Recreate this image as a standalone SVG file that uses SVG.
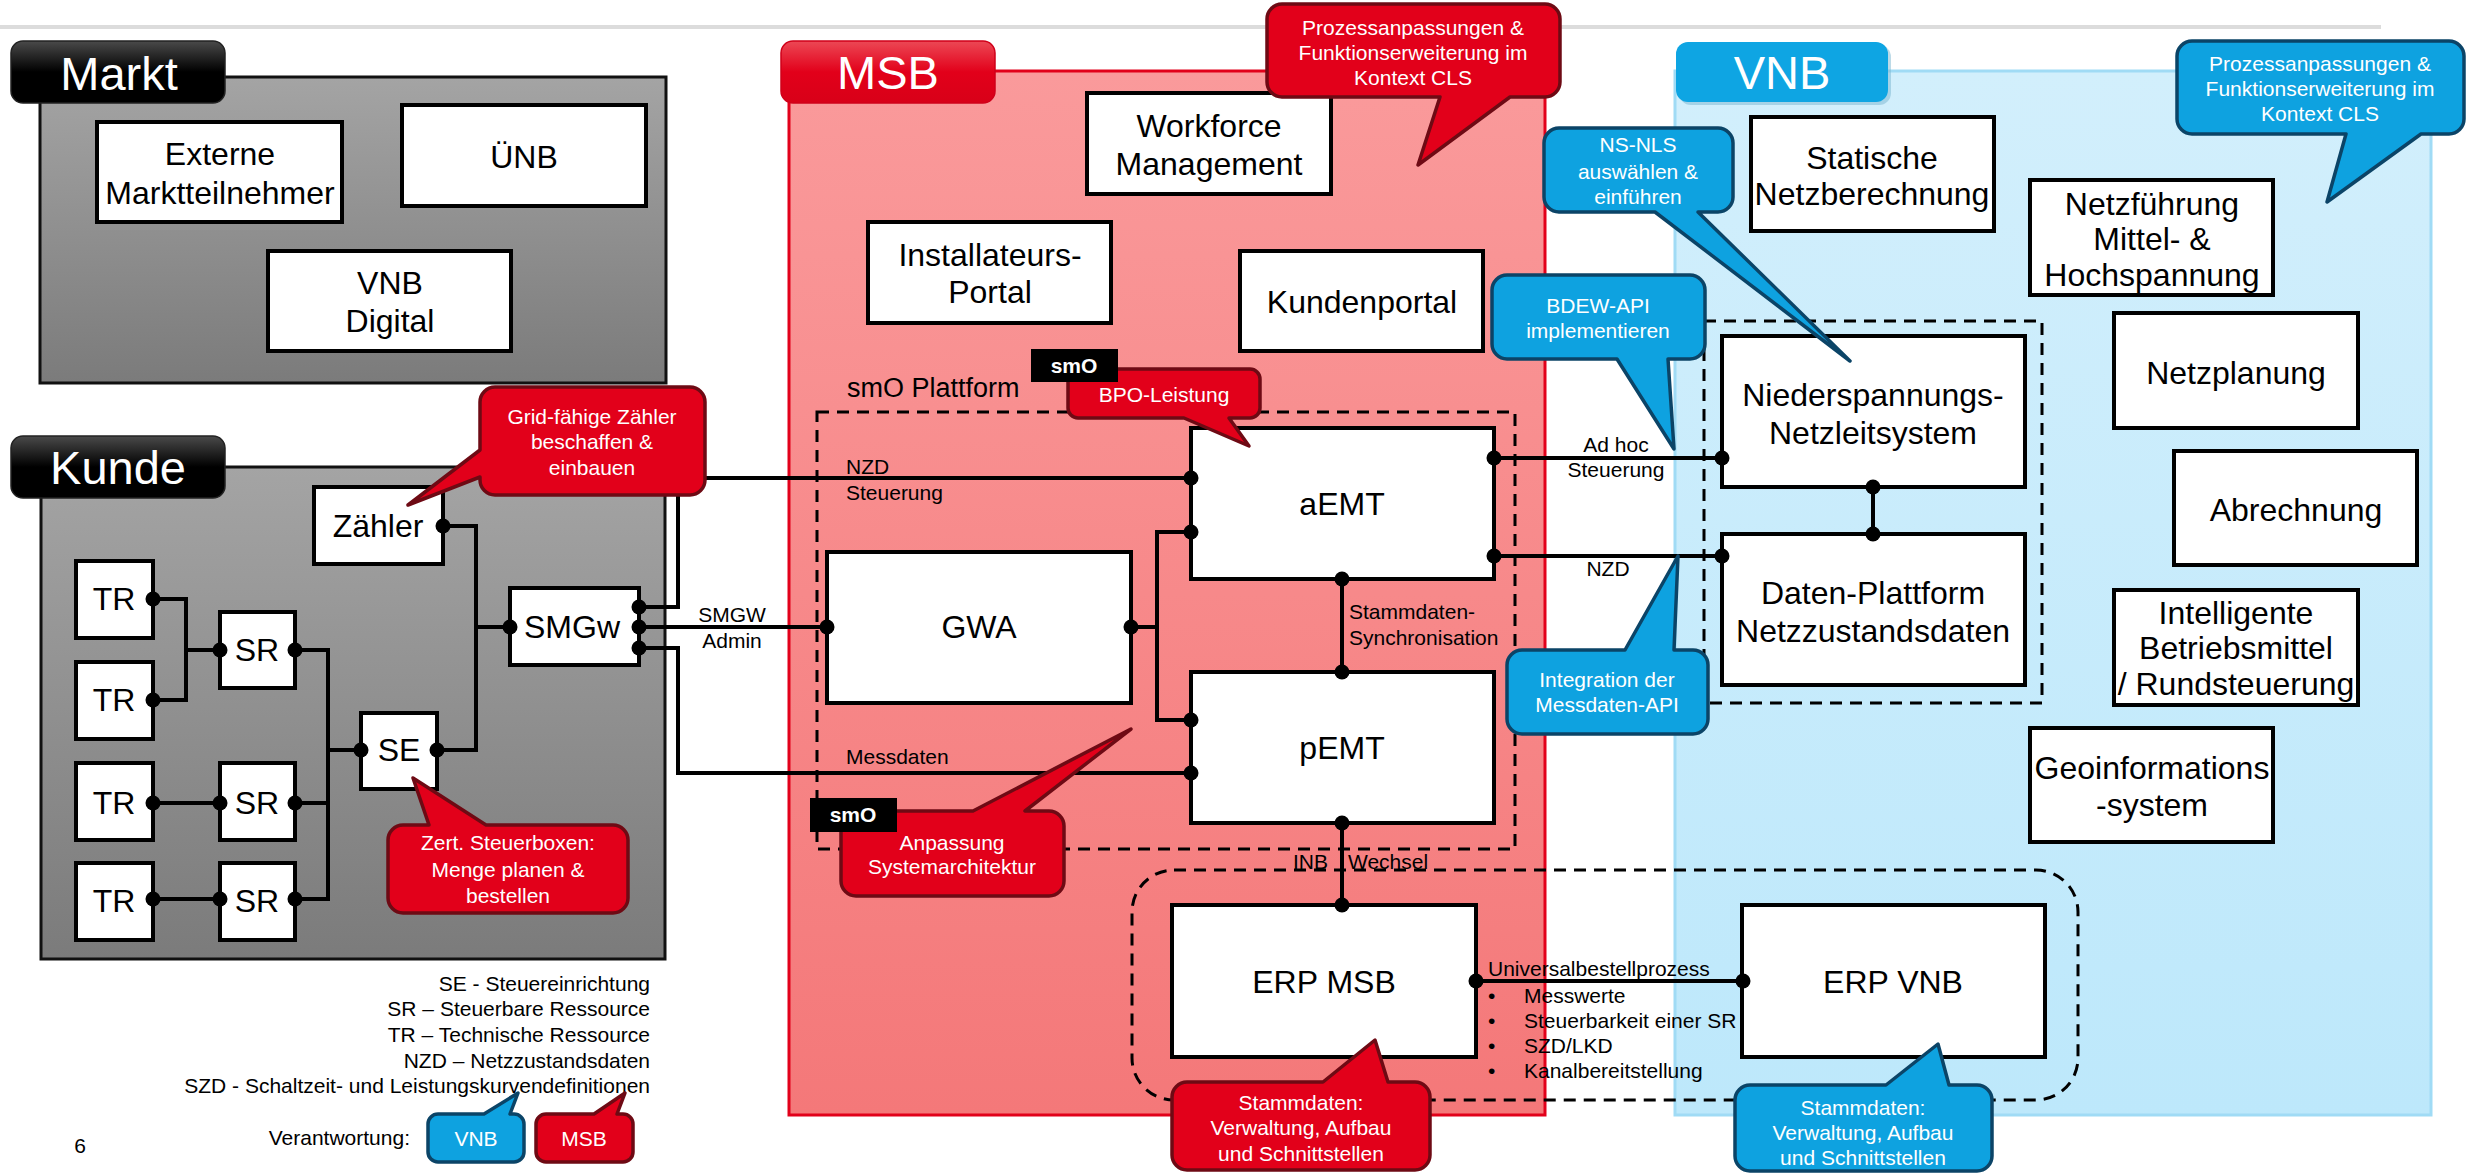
<svg xmlns="http://www.w3.org/2000/svg" width="2466" height="1173" viewBox="0 0 2466 1173">
<defs>
<linearGradient id="gGray" x1="0" y1="0" x2="0" y2="1"><stop offset="0" stop-color="#a4a4a4"/><stop offset="1" stop-color="#7b7b7b"/></linearGradient>
<linearGradient id="gTab" x1="0" y1="0" x2="0" y2="1"><stop offset="0" stop-color="#4a4a4a"/><stop offset="0.5" stop-color="#000"/><stop offset="1" stop-color="#000"/></linearGradient>
<linearGradient id="gRedTab" x1="0" y1="0" x2="0" y2="1"><stop offset="0" stop-color="#ec4855"/><stop offset="0.5" stop-color="#e2001a"/><stop offset="1" stop-color="#d80018"/></linearGradient>
<linearGradient id="gMsb" x1="0" y1="0" x2="0" y2="1"><stop offset="0" stop-color="#fa9a9b"/><stop offset="1" stop-color="#f47879"/></linearGradient>
<linearGradient id="gVnb" x1="0" y1="0" x2="0" y2="1"><stop offset="0" stop-color="#d2effc"/><stop offset="1" stop-color="#bde8fb"/></linearGradient>
</defs>
<style>
text{font-family:"Liberation Sans",Arial,sans-serif}
.box{fill:#fff;stroke:#000;stroke-width:4}
.t32{font-size:32px;text-anchor:middle;fill:#000}
.t21{font-size:21px;fill:#000}
.mid{text-anchor:middle}
.end{text-anchor:end}
.tab{font-size:47px;fill:#fff;text-anchor:middle}
.cw{font-size:21px;fill:#fff;text-anchor:middle}
.red{fill:#e2001a;stroke:#6e0a14;stroke-width:3.5;stroke-linejoin:round}
.blue{fill:#0ea2e0;stroke:#0b4467;stroke-width:3.5;stroke-linejoin:round}
.dash{fill:none;stroke:#000;stroke-width:3;stroke-dasharray:12 8}
.wire{fill:none;stroke:#000;stroke-width:4}
.dot{fill:#000}
.smo{fill:#000}
.smot{font-size:21px;font-weight:bold;fill:#fff;text-anchor:middle}
</style>
<rect x="0" y="25" width="2381" height="4" fill="#dcdcdc"/>

<g id="markt">
<rect x="40" y="77" width="626" height="306" fill="url(#gGray)" stroke="#111" stroke-width="3"/>
<rect x="11" y="41" width="214" height="62" rx="12" fill="url(#gTab)" stroke="#222" stroke-width="1.5"/>
<text class="tab" x="119" y="90">Markt</text>
</g>
<g id="kunde">
<rect x="41" y="467" width="624" height="492" fill="url(#gGray)" stroke="#111" stroke-width="3"/>
<rect x="11" y="436" width="214" height="62" rx="12" fill="url(#gTab)" stroke="#222" stroke-width="1.5"/>
<text class="tab" x="118" y="484">Kunde</text>
</g>
<g id="msb">
<rect x="789" y="71" width="756" height="1044" fill="url(#gMsb)" stroke="#e2001a" stroke-width="3"/>
<rect x="781" y="41" width="214" height="62" rx="12" fill="url(#gRedTab)" stroke="#d0001a" stroke-width="1.5"/>
<text class="tab" x="888" y="89">MSB</text>
</g>
<g id="vnb">
<rect x="1675" y="71" width="756" height="1044" fill="url(#gVnb)" stroke="#a0dbf5" stroke-width="3"/>
<rect x="1679" y="45" width="212" height="60" rx="12" fill="#7ab5cf" opacity="0.5"/>
<rect x="1676" y="42" width="212" height="60" rx="12" fill="#0ea5e3"/>
<text class="tab" x="1782" y="89">VNB</text>
</g>

<g id="groups">
<rect class="dash" x="817" y="412" width="698" height="437"/>
<text x="847" y="397" style="font-size:27px">smO Plattform</text>
<rect class="dash" x="1704" y="321" width="338" height="382"/>
<rect class="dash" x="1132" y="870" width="946" height="230" rx="42"/>
</g>

<g id="n-externe"><rect class="box" x="97" y="122" width="245" height="100"/><text class="t32" x="220" y="165">Externe</text><text class="t32" x="220" y="204">Marktteilnehmer</text></g>
<g id="n-uenb"><rect class="box" x="402" y="105" width="244" height="101"/><text class="t32" x="524" y="168">ÜNB</text></g>
<g id="n-vnbdigital"><rect class="box" x="268" y="251" width="243" height="100"/><text class="t32" x="390" y="294">VNB</text><text class="t32" x="390" y="332">Digital</text></g>

<g id="n-zaehler"><rect class="box" x="314" y="487" width="129" height="77"/><text class="t32" x="378" y="537">Zähler</text></g>
<g id="n-smgw"><rect class="box" x="510" y="588" width="129" height="77"/><text class="t32" x="572" y="638">SMGw</text></g>
<g id="n-tr1"><rect class="box" x="76" y="561" width="77" height="77"/><text class="t32" x="114" y="610">TR</text></g>
<g id="n-tr2"><rect class="box" x="76" y="662" width="77" height="77"/><text class="t32" x="114" y="711">TR</text></g>
<g id="n-tr3"><rect class="box" x="76" y="763" width="77" height="77"/><text class="t32" x="114" y="814">TR</text></g>
<g id="n-tr4"><rect class="box" x="76" y="863" width="77" height="77"/><text class="t32" x="114" y="912">TR</text></g>
<g id="n-sr1"><rect class="box" x="220" y="612" width="75" height="76"/><text class="t32" x="257" y="661">SR</text></g>
<g id="n-sr2"><rect class="box" x="220" y="763" width="75" height="77"/><text class="t32" x="257" y="814">SR</text></g>
<g id="n-sr3"><rect class="box" x="220" y="863" width="75" height="77"/><text class="t32" x="257" y="912">SR</text></g>
<g id="n-se"><rect class="box" x="361" y="713" width="76" height="76"/><text class="t32" x="399" y="761">SE</text></g>

<g id="n-workforce"><rect class="box" x="1087" y="93" width="244" height="101"/><text class="t32" x="1209" y="137">Workforce</text><text class="t32" x="1209" y="175">Management</text></g>
<g id="n-installateur"><rect class="box" x="868" y="222" width="243" height="101"/><text class="t32" x="990" y="266">Installateurs-</text><text class="t32" x="990" y="303">Portal</text></g>
<g id="n-kundenportal"><rect class="box" x="1240" y="251" width="243" height="100"/><text class="t32" x="1362" y="313">Kundenportal</text></g>
<g id="n-aemt"><rect class="box" x="1191" y="428" width="303" height="151"/><text class="t32" x="1342" y="515">aEMT</text></g>
<g id="n-gwa"><rect class="box" x="827" y="552" width="304" height="151"/><text class="t32" x="979" y="638">GWA</text></g>
<g id="n-pemt"><rect class="box" x="1191" y="672" width="303" height="151"/><text class="t32" x="1342" y="759">pEMT</text></g>
<g id="n-erpmsb"><rect class="box" x="1172" y="905" width="304" height="152"/><text class="t32" x="1324" y="993">ERP MSB</text></g>

<g id="n-statische"><rect class="box" x="1751" y="117" width="243" height="114"/><text class="t32" x="1872" y="169">Statische</text><text class="t32" x="1872" y="205">Netzberechnung</text></g>
<g id="n-netzfuehrung"><rect class="box" x="2030" y="180" width="243" height="115"/><text class="t32" x="2152" y="215">Netzführung</text><text class="t32" x="2152" y="250">Mittel- &amp;</text><text class="t32" x="2152" y="286">Hochspannung</text></g>
<g id="n-netzplanung"><rect class="box" x="2114" y="313" width="244" height="115"/><text class="t32" x="2236" y="384">Netzplanung</text></g>
<g id="n-abrechnung"><rect class="box" x="2174" y="451" width="243" height="114"/><text class="t32" x="2296" y="521">Abrechnung</text></g>
<g id="n-intelligente"><rect class="box" x="2114" y="590" width="244" height="115"/><text class="t32" x="2236" y="624">Intelligente</text><text class="t32" x="2236" y="659">Betriebsmittel</text><text class="t32" x="2236" y="695">/ Rundsteuerung</text></g>
<g id="n-geo"><rect class="box" x="2030" y="728" width="243" height="114"/><text class="t32" x="2152" y="779">Geoinformations</text><text class="t32" x="2152" y="816">-system</text></g>
<g id="n-nsnls"><rect class="box" x="1722" y="336" width="303" height="151"/><text class="t32" x="1873" y="406">Niederspannungs-</text><text class="t32" x="1873" y="444">Netzleitsystem</text></g>
<g id="n-daten"><rect class="box" x="1722" y="534" width="303" height="151"/><text class="t32" x="1873" y="604">Daten-Plattform</text><text class="t32" x="1873" y="642">Netzzustandsdaten</text></g>
<g id="n-erpvnb"><rect class="box" x="1742" y="905" width="303" height="152"/><text class="t32" x="1893" y="993">ERP VNB</text></g>

<g id="connectors">
<path class="wire" d="M153,599 H186 V700 H153 M186,650 H220"/>
<path class="wire" d="M295,650 H328 V899 H295 M295,803 H328 M328,750 H361"/>
<path class="wire" d="M153,803 H220 M153,899 H220"/>
<path class="wire" d="M437,750 H476 V526 H443 M476,627 H510"/>
<path class="wire" d="M639,607 H678 V478 H1191"/>
<path class="wire" d="M639,627 H827"/>
<path class="wire" d="M639,648 H678 V773 H1191"/>
<path class="wire" d="M1131,627 H1157 M1191,532 H1157 V720 H1191"/>
<path class="wire" d="M1342,579 V672 M1342,823 V905"/>
<path class="wire" d="M1494,458 H1722 M1494,556 H1722 M1873,487 V534"/>
<path class="wire" d="M1476,981 H1743"/>
<g class="dot">
<circle cx="153" cy="599" r="7.5"/><circle cx="153" cy="700" r="7.5"/><circle cx="153" cy="803" r="7.5"/><circle cx="153" cy="899" r="7.5"/>
<circle cx="220" cy="650" r="7.5"/><circle cx="295" cy="650" r="7.5"/><circle cx="220" cy="803" r="7.5"/><circle cx="295" cy="803" r="7.5"/><circle cx="220" cy="899" r="7.5"/><circle cx="295" cy="899" r="7.5"/>
<circle cx="361" cy="750" r="7.5"/><circle cx="437" cy="750" r="7.5"/><circle cx="443" cy="526" r="7.5"/><circle cx="510" cy="627" r="7.5"/>
<circle cx="639" cy="607" r="7.5"/><circle cx="639" cy="627" r="7.5"/><circle cx="639" cy="648" r="7.5"/>
<circle cx="827" cy="627" r="7.5"/><circle cx="1131" cy="627" r="7.5"/>
<circle cx="1191" cy="478" r="7.5"/><circle cx="1191" cy="532" r="7.5"/><circle cx="1494" cy="458" r="7.5"/><circle cx="1494" cy="556" r="7.5"/><circle cx="1342" cy="579" r="7.5"/>
<circle cx="1342" cy="672" r="7.5"/><circle cx="1191" cy="720" r="7.5"/><circle cx="1191" cy="773" r="7.5"/><circle cx="1342" cy="823" r="7.5"/>
<circle cx="1342" cy="905" r="7.5"/><circle cx="1476" cy="981" r="7.5"/><circle cx="1743" cy="981" r="7.5"/>
<circle cx="1722" cy="458" r="7.5"/><circle cx="1873" cy="487" r="7.5"/><circle cx="1873" cy="534" r="7.5"/><circle cx="1722" cy="556" r="7.5"/>
</g>
<text class="t21" x="846" y="474">NZD</text>
<text class="t21" x="846" y="500">Steuerung</text>
<text class="t21 mid" x="732" y="622">SMGW</text>
<text class="t21 mid" x="732" y="648">Admin</text>
<text class="t21" x="846" y="764">Messdaten</text>
<text class="t21" x="1349" y="619">Stammdaten-</text>
<text class="t21" x="1349" y="645">Synchronisation</text>
<text class="t21 mid" x="1616" y="452">Ad hoc</text>
<text class="t21 mid" x="1616" y="477">Steuerung</text>
<text class="t21 mid" x="1608" y="576">NZD</text>
<text class="t21" y="869"><tspan x="1293">INB</tspan><tspan x="1348">Wechsel</tspan></text>
<text class="t21" x="1488" y="976">Universalbestellprozess</text>
<text class="t21" x="1488" y="1003">•<tspan x="1524">Messwerte</tspan></text>
<text class="t21" x="1488" y="1028">•<tspan x="1524">Steuerbarkeit einer SR</tspan></text>
<text class="t21" x="1488" y="1053">•<tspan x="1524">SZD/LKD</tspan></text>
<text class="t21" x="1488" y="1078">•<tspan x="1524">Kanalbereitstellung</tspan></text>
</g>

<g id="callouts">
<g id="c-prozess-msb"><path class="red" d="M1282,4 H1545 A15,15 0 0 1 1560,19 V82 A15,15 0 0 1 1545,97 H1510 L1418,165 L1440,97 H1282 A15,15 0 0 1 1267,82 V19 A15,15 0 0 1 1282,4 Z"/>
<text class="cw" x="1413" y="35">Prozessanpassungen &amp;</text><text class="cw" x="1413" y="60">Funktionserweiterung im</text><text class="cw" x="1413" y="85">Kontext CLS</text></g>
<g id="c-prozess-vnb"><path class="blue" d="M2192,41 H2449 A15,15 0 0 1 2464,56 V119 A15,15 0 0 1 2449,134 H2421 L2327,202 L2346,134 H2192 A15,15 0 0 1 2177,119 V56 A15,15 0 0 1 2192,41 Z"/>
<text class="cw" x="2320" y="71">Prozessanpassungen &amp;</text><text class="cw" x="2320" y="96">Funktionserweiterung im</text><text class="cw" x="2320" y="121">Kontext CLS</text></g>
<g id="c-nsnls"><path class="blue" d="M1559,128 H1718 A15,15 0 0 1 1733,143 V197 A15,15 0 0 1 1718,212 H1698 L1850,361 L1655,212 H1559 A15,15 0 0 1 1544,197 V143 A15,15 0 0 1 1559,128 Z"/>
<text class="cw" x="1638" y="152">NS-NLS</text><text class="cw" x="1638" y="179">auswählen &amp;</text><text class="cw" x="1638" y="204">einführen</text></g>
<g id="c-bdew"><path class="blue" d="M1507,275 H1690 A15,15 0 0 1 1705,290 V344 A15,15 0 0 1 1690,359 H1668 L1674,449 L1617,359 H1507 A15,15 0 0 1 1492,344 V290 A15,15 0 0 1 1507,275 Z"/>
<text class="cw" x="1598" y="313">BDEW-API</text><text class="cw" x="1598" y="338">implementieren</text></g>
<g id="c-integration"><path class="blue" d="M1522,650 H1625 L1678,556 L1674,650 H1693 A15,15 0 0 1 1708,665 V719 A15,15 0 0 1 1693,734 H1522 A15,15 0 0 1 1507,719 V665 A15,15 0 0 1 1522,650 Z"/>
<text class="cw" x="1607" y="687">Integration der</text><text class="cw" x="1607" y="712">Messdaten-API</text></g>
<g id="c-grid"><path class="red" d="M495,387 H690 A15,15 0 0 1 705,402 V480 A15,15 0 0 1 690,495 H495 A15,15 0 0 1 480,480 V477 L408,505 L480,450 V402 A15,15 0 0 1 495,387 Z"/>
<text class="cw" x="592" y="424">Grid-fähige Zähler</text><text class="cw" x="592" y="449">beschaffen &amp;</text><text class="cw" x="592" y="475">einbauen</text></g>
<g id="c-bpo"><path class="red" d="M1078,369 H1250 A10,10 0 0 1 1260,379 V408 A10,10 0 0 1 1250,418 H1229 L1249,446 L1184,418 H1078 A10,10 0 0 1 1068,408 V379 A10,10 0 0 1 1078,369 Z"/>
<text class="cw" x="1164" y="402">BPO-Leistung</text></g>
<g id="c-anpassung"><path class="red" d="M856,811 H973 L1131,729 L1025,811 H1049 A15,15 0 0 1 1064,826 V881 A15,15 0 0 1 1049,896 H856 A15,15 0 0 1 841,881 V826 A15,15 0 0 1 856,811 Z"/>
<text class="cw" x="952" y="850">Anpassung</text><text class="cw" x="952" y="874">Systemarchitektur</text></g>
<g id="c-zert"><path class="red" d="M403,825 H429 L413,778 L486,825 H613 A15,15 0 0 1 628,840 V898 A15,15 0 0 1 613,913 H403 A15,15 0 0 1 388,898 V840 A15,15 0 0 1 403,825 Z"/>
<text class="cw" x="508" y="850">Zert. Steuerboxen:</text><text class="cw" x="508" y="877">Menge planen &amp;</text><text class="cw" x="508" y="903">bestellen</text></g>
<g id="c-stamm-msb"><path class="red" d="M1187,1082 H1323 L1375,1040 L1388,1082 H1415 A15,15 0 0 1 1430,1097 V1155 A15,15 0 0 1 1415,1170 H1187 A15,15 0 0 1 1172,1155 V1097 A15,15 0 0 1 1187,1082 Z"/>
<text class="cw" x="1301" y="1110">Stammdaten:</text><text class="cw" x="1301" y="1135">Verwaltung, Aufbau</text><text class="cw" x="1301" y="1161">und Schnittstellen</text></g>
<g id="c-stamm-vnb"><path class="blue" d="M1750,1085 H1886 L1938,1044 L1949,1085 H1977 A15,15 0 0 1 1992,1100 V1156 A15,15 0 0 1 1977,1171 H1750 A15,15 0 0 1 1735,1156 V1100 A15,15 0 0 1 1750,1085 Z"/>
<text class="cw" x="1863" y="1115">Stammdaten:</text><text class="cw" x="1863" y="1140">Verwaltung, Aufbau</text><text class="cw" x="1863" y="1165">und Schnittstellen</text></g>
</g>

<g id="smo-labels">
<rect class="smo" x="1031" y="349" width="87" height="33"/><text class="smot" x="1074" y="373">smO</text>
<rect class="smo" x="810" y="798" width="87" height="34"/><text class="smot" x="853" y="822">smO</text>
</g>

<g id="legend">
<text class="t21 end" x="650" y="991">SE - Steuereinrichtung</text>
<text class="t21 end" x="650" y="1016">SR – Steuerbare Ressource</text>
<text class="t21 end" x="650" y="1042">TR – Technische Ressource</text>
<text class="t21 end" x="650" y="1068">NZD – Netzzustandsdaten</text>
<text class="t21 end" x="650" y="1093">SZD - Schaltzeit- und Leistungskurvendefinitionen</text>
<text class="t21 end" x="410" y="1145">Verantwortung:</text>
<g id="legend-vnb"><path class="blue" d="M438,1114 H484 L518,1093 L510,1114 H514 A10,10 0 0 1 524,1124 V1152 A10,10 0 0 1 514,1162 H438 A10,10 0 0 1 428,1152 V1124 A10,10 0 0 1 438,1114 Z"/><text class="cw" x="476" y="1146">VNB</text></g>
<g id="legend-msb"><path class="red" d="M546,1114 H594 L625,1093 L617,1114 H623 A10,10 0 0 1 633,1124 V1152 A10,10 0 0 1 623,1162 H546 A10,10 0 0 1 536,1152 V1124 A10,10 0 0 1 546,1114 Z"/><text class="cw" x="584" y="1146">MSB</text></g>
<text class="t21 mid" x="80" y="1153">6</text>
</g>
</svg>
